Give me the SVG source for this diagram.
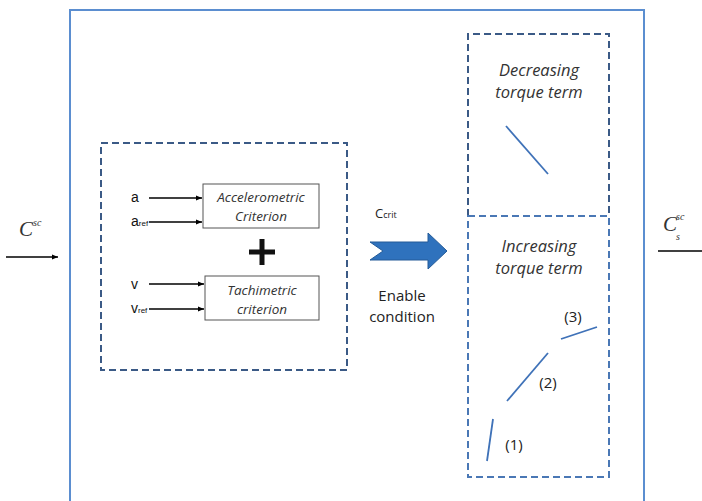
<svg xmlns="http://www.w3.org/2000/svg" width="702" height="501" viewBox="0 0 702 501">
<defs>
<style>
.ln{stroke:#000;stroke-width:1.3;fill:none}
.dash{fill:none;stroke:#3b5a86;stroke-width:2;stroke-dasharray:7 4}
.dashl{fill:none;stroke:#4a78b5;stroke-width:2;stroke-dasharray:7 4}
.box{fill:#fff;stroke:#555;stroke-width:1}
.it{font-family:"Open Sans","Liberation Sans",sans-serif;font-style:italic;fill:#333;text-anchor:middle}
.sans{font-family:"Open Sans","Liberation Sans",sans-serif;fill:#222}
.lab{font-family:"Liberation Sans",Arial,sans-serif;fill:#111}
.math{font-family:"Liberation Serif",serif;font-style:italic;fill:#333}
.curve{stroke:#3f72b8;stroke-width:1.8;fill:none}
</style>
<marker id="ah" viewBox="0 0 10 10" refX="10" refY="5" markerWidth="6" markerHeight="6" orient="auto" markerUnits="userSpaceOnUse">
<path d="M0,1 L10,5 L0,9 z" fill="#000"/>
</marker>
</defs>
<rect width="702" height="501" fill="#fff"/>
<g id="outer">
<path d="M70,505 V10 H644 V505" fill="none" stroke="#5b8ed0" stroke-width="2"/>
</g>
<g id="input">
<text class="math" x="19" y="236" font-size="21">C<tspan font-size="10" dy="-10">sc</tspan></text>
</g>
<g id="output">
<text class="math" x="663" y="231" font-size="21">C</text>
<text class="math" x="676" y="220" font-size="10">sc</text>
<text class="math" x="676" y="240" font-size="10">s</text>
</g>
<g id="criteria">
<rect class="dash" x="101" y="143" width="246" height="227"/>
<text class="lab" x="131" y="202" font-size="14">a</text>
<text class="lab" x="131" y="226" font-size="14">a<tspan font-size="8">ref</tspan></text>
<text class="lab" x="131" y="289" font-size="14">v</text>
<text class="lab" x="131" y="313" font-size="14">v<tspan font-size="8">ref</tspan></text>
</g>
<g id="accel">
<rect class="box" x="203" y="184" width="116" height="44"/>
<text class="it" x="261" y="202" font-size="13.5">Accelerometric</text>
<text class="it" x="261" y="221" font-size="13.5">Criterion</text>
</g>
<g id="tachi">
<rect class="box" x="205" y="276" width="114" height="44"/>
<text class="it" x="262" y="295" font-size="13.5">Tachimetric</text>
<text class="it" x="262" y="314" font-size="13.5">criterion</text>
</g>
<g id="plus">
<path d="M249,252 H275 M262,239 V265" stroke="#111" stroke-width="5"/>
</g>
<g id="enable">
<text class="sans" x="375" y="218" font-size="13">C<tspan font-size="9">crit</tspan></text>
<path d="M370,242 H428 V233 L447,251 L428,269 V260 H370 L383,251 Z" fill="#2f72bd" stroke="#245b98" stroke-width="1"/>
<text class="sans" x="402" y="301" font-size="15" text-anchor="middle">Enable</text>
<text class="sans" x="402" y="322" font-size="15" text-anchor="middle">condition</text>
</g>
<g id="decreasing">
<path class="dash" d="M468,216 V34 H609 V216"/>
<text class="it" x="539" y="76" font-size="16.5">Decreasing</text>
<text class="it" x="539" y="98" font-size="16.5">torque term</text>
<line class="curve" x1="506" y1="126" x2="548" y2="174"/>
</g>
<g id="increasing">
<rect class="dashl" x="468" y="216" width="141" height="261"/>
<text class="it" x="539" y="252" font-size="16.5">Increasing</text>
<text class="it" x="539" y="274" font-size="16.5">torque term</text>
<line class="curve" x1="493" y1="419" x2="487" y2="461"/>
<line class="curve" x1="507" y1="401" x2="548" y2="353"/>
<line class="curve" x1="561" y1="339" x2="597" y2="327"/>
<text class="sans" x="573" y="322" font-size="15" text-anchor="middle">(3)</text>
<text class="sans" x="548" y="388" font-size="15" text-anchor="middle">(2)</text>
<text class="sans" x="514" y="450" font-size="15" text-anchor="middle">(1)</text>
</g>
<g id="connectors">
<line class="ln" x1="6" y1="257" x2="58" y2="257" marker-end="url(#ah)"/>
<line class="ln" x1="658" y1="251" x2="702" y2="251"/>
<line class="ln" x1="149" y1="198" x2="202" y2="198" marker-end="url(#ah)"/>
<line class="ln" x1="149" y1="222" x2="202" y2="222" marker-end="url(#ah)"/>
<line class="ln" x1="149" y1="284" x2="204" y2="284" marker-end="url(#ah)"/>
<line class="ln" x1="149" y1="309" x2="204" y2="309" marker-end="url(#ah)"/>
</g>
</svg>
